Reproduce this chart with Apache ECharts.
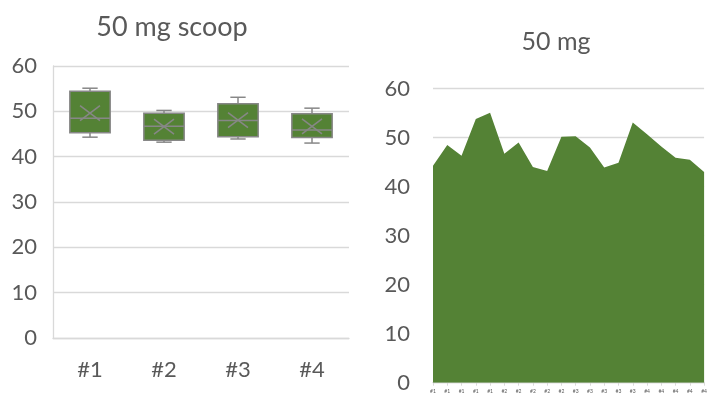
<!DOCTYPE html>
<html>
<head>
<meta charset="utf-8">
<script src="https://cdn.jsdelivr.net/npm/echarts@6/dist/echarts.min.js"></script>
<style>
html,body{margin:0;padding:0;background:#fff;}
#chart{width:710px;height:396px;}
</style>
</head>
<body>
<div id="chart"></div>
<script>
// ---- data ----
const boxCategories = ['#1', '#2', '#3', '#4'];
const sample1 = [44.3, 48.5, 46.3, 53.8, 55.1];
const sample2 = [46.7, 49.0, 44.0, 43.2, 50.2];
const sample3 = [50.3, 48.0, 43.9, 44.9, 53.1];
const sample4 = [50.7, 48.2, 45.9, 45.5, 43.0];
const areaLabels = ['#1','#1','#1','#1','#1','#2','#2','#2','#2','#2','#3','#3','#3','#3','#3','#4','#4','#4','#4','#4'];
const leftTitle = '50 mg scoop';
const rightTitle = '50 mg';

// ---- helpers ----
const samples = [sample1, sample2, sample3, sample4];
const areaValues = [].concat(sample1, sample2, sample3, sample4);
function quartileExc(arr, p) {
  const s = arr.slice().sort((a, b) => a - b);
  const pos = p * (s.length + 1);
  const i = Math.floor(pos), f = pos - i;
  if (i < 1) return s[0];
  if (i >= s.length) return s[s.length - 1];
  return s[i - 1] + f * (s[i] - s[i - 1]);
}
const boxData = samples.map((s, i) => {
  const mn = Math.min.apply(null, s), mx = Math.max.apply(null, s);
  const mean = s.reduce((a, b) => a + b, 0) / s.length;
  return [i, mn, quartileExc(s, 0.25), quartileExc(s, 0.5), quartileExc(s, 0.75), mx, mean];
});

const TXT = '#595959';
const GRID = '#d9d9d9';
const GREEN = '#548235';
const EDGE = '#878787';
const FONT = 'Lato';

const chart = echarts.init(document.getElementById('chart'), null, {renderer: 'canvas'});
chart.setOption({
  animation: false,
  textStyle: {fontFamily: FONT},
  graphic: [
    {type: 'text', x: 172, y: 27, style: {text: leftTitle, font: '27px ' + FONT, fill: TXT, textAlign: 'center', textVerticalAlign: 'middle'}},
    {type: 'text', x: 556, y: 42, style: {text: rightTitle, font: '25px ' + FONT, fill: TXT, textAlign: 'center', textVerticalAlign: 'middle'}}
  ],
  grid: [
    {left: 53, top: 66, width: 296, height: 272},
    {left: 433, top: 88.7, width: 281, height: 294}
  ],
  xAxis: [
    {
      gridIndex: 0, type: 'category', data: boxCategories, boundaryGap: true,
      axisLine: {show: true, lineStyle: {color: GRID, width: 1.3}},
      axisTick: {show: false},
      axisLabel: {color: TXT, fontSize: 22, margin: 21, fontFamily: FONT}
    },
    {
      gridIndex: 1, type: 'category', data: areaLabels, boundaryGap: false,
      axisLine: {show: true, lineStyle: {color: GRID, width: 1.3}},
      axisTick: {show: true, length: 3, alignWithLabel: true, interval: 0, lineStyle: {color: GRID}},
      axisLabel: {color: TXT, fontSize: 5, margin: 6, interval: 0, fontFamily: FONT}
    }
  ],
  yAxis: [
    {
      gridIndex: 0, type: 'value', min: 0, max: 60, interval: 10,
      axisLine: {show: true, lineStyle: {color: GRID, width: 1.3}},
      axisTick: {show: false},
      splitLine: {show: true, lineStyle: {color: GRID, width: 1.3}},
      axisLabel: {color: TXT, fontSize: 22, margin: 16, fontFamily: FONT}
    },
    {
      gridIndex: 1, type: 'value', min: 0, max: 60, interval: 10,
      axisLine: {show: false},
      axisTick: {show: false},
      splitLine: {show: true, lineStyle: {color: GRID, width: 1.3}},
      axisLabel: {color: TXT, fontSize: 22, margin: 23, fontFamily: FONT}
    }
  ],
  series: [
    {
      type: 'custom', xAxisIndex: 0, yAxisIndex: 0,
      data: boxData,
      encode: {x: 0, y: [1, 2, 3, 4, 5, 6]},
      renderItem: function (params, api) {
        const x = api.value(0);
        const pMin = api.coord([x, api.value(1)]);
        const pQ1 = api.coord([x, api.value(2)]);
        const pMed = api.coord([x, api.value(3)]);
        const pQ3 = api.coord([x, api.value(4)]);
        const pMax = api.coord([x, api.value(5)]);
        const pMean = api.coord([x, api.value(6)]);
        const bw = api.size([1, 0])[0] * 0.545;
        const cw = bw * 0.38;
        const cx = pMed[0];
        const st = {stroke: EDGE, lineWidth: 1.5, fill: null};
        const mx = 10, my = 7.5;
        return {
          type: 'group',
          children: [
            {type: 'line', shape: {x1: cx, y1: pMax[1], x2: cx, y2: pQ3[1]}, style: st},
            {type: 'line', shape: {x1: cx, y1: pQ1[1], x2: cx, y2: pMin[1]}, style: st},
            {type: 'line', shape: {x1: cx - cw / 2, y1: pMax[1], x2: cx + cw / 2, y2: pMax[1]}, style: st},
            {type: 'line', shape: {x1: cx - cw / 2, y1: pMin[1], x2: cx + cw / 2, y2: pMin[1]}, style: st},
            {type: 'rect', shape: {x: cx - bw / 2, y: pQ3[1], width: bw, height: pQ1[1] - pQ3[1]}, style: {fill: GREEN, stroke: EDGE, lineWidth: 1.5}},
            {type: 'line', shape: {x1: cx - bw / 2, y1: pMed[1], x2: cx + bw / 2, y2: pMed[1]}, style: st},
            {type: 'line', shape: {x1: cx - mx, y1: pMean[1] - my, x2: cx + mx, y2: pMean[1] + my}, style: st},
            {type: 'line', shape: {x1: cx - mx, y1: pMean[1] + my, x2: cx + mx, y2: pMean[1] - my}, style: st}
          ]
        };
      },
      z: 3
    },
    {
      type: 'line', xAxisIndex: 1, yAxisIndex: 1,
      data: areaValues,
      symbol: 'none',
      lineStyle: {width: 0},
      areaStyle: {color: GREEN, opacity: 1},
      z: 3
    }
  ]
});
</script>
</body>
</html>
